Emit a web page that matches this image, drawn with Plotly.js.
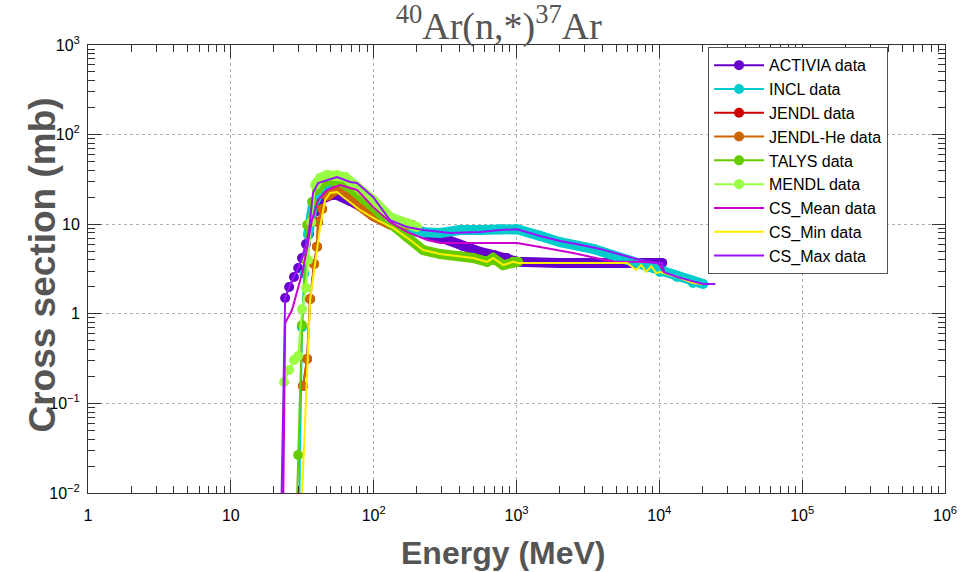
<!DOCTYPE html>
<html>
<head>
<meta charset="utf-8">
<script src="https://cdn.plot.ly/plotly-3.0.1.min.js"></script>
<style>html,body{margin:0;padding:0;background:#fff;}#chart{width:961px;height:572px;}</style>
</head>
<body>
<div id="chart"></div>
<script>
// ---- data (energy in MeV, cross section in mb) ----
const activiaE  = [24.0, 25.6, 27.7, 29.6, 31.5, 33.6, 35.3, 37.0, 38.9, 40.8, 43.5, 46.4, 50.3, 55.4, 61.1, 68.4, 80.3, 99, 120, 150, 189, 250, 327, 420, 556, 700, 859, 1010, 2000, 5000, 10470];
const activiaXS = [1.50, 1.99, 2.58, 3.25, 4.2, 6.0, 7.8, 10.6, 13.7, 16.8, 19.1, 20.1, 21.2, 21.2, 20.1, 18.2, 16.0, 13.3, 11.5, 10.2, 8.8, 7.6, 6.7, 5.7, 4.9, 4.5, 4.2, 3.8, 3.7, 3.7, 3.7];

const inclE  = [30.0, 31.5, 32.7, 34.7, 37.6, 42.2, 49.5, 58.2, 74.1, 99, 137, 201, 292, 403, 556, 767, 1010, 1463, 2020, 3440, 5950, 8220, 10100, 13300, 17200, 20300];
const inclXS = [0.005, 0.71, 2.8, 7.6, 16.4, 22.9, 25.3, 24.7, 20.6, 15.2, 11.1, 8.2, 7.98, 8.6, 8.6, 8.8, 8.8, 7.4, 6.3, 5.3, 3.98, 3.33, 2.93, 2.58, 2.21, 2.15];

const jendlE  = [32.0, 34.2, 35.9, 38.3, 40.1, 40.8, 43.5, 47.2, 55.4, 65.1, 80.3, 99, 130, 186];
const jendlXS = [0.156, 0.313, 1.46, 3.6, 5.6, 10.6, 14.8, 20.6, 24.7, 22.9, 16.0, 12.4, 10.0, 9.8];

const jendlHeE  = [32.0, 34.2, 35.9, 38.3, 40.1, 40.8, 43.5, 47.2, 55.4, 65.1, 80.3, 99, 130, 186];
const jendlHeXS = [0.156, 0.313, 1.46, 3.6, 5.6, 10.6, 14.8, 20.6, 24.7, 22.9, 16.0, 12.4, 10.0, 9.8];

const talysE  = [28.8, 29.6, 31.5, 33.6, 34.2, 37.0, 40.1, 43.5, 49.5, 58.2, 68.4, 80.3, 99, 130, 171, 222, 292, 403, 497, 622, 686, 805, 946, 1026];
const talysXS = [0.005, 0.0265, 0.75, 3.98, 9.8, 17.7, 24.1, 28.8, 31.1, 29.6, 25.4, 21.2, 15.6, 10.3, 7.2, 5.15, 4.65, 4.4, 4.2, 3.8, 4.2, 3.5, 3.8, 3.8];

const mendlE  = [22.8, 23.6, 25.6, 27.7, 29.6, 31.5, 33.6, 34.7, 36.5, 38.9, 42.2, 47.2, 55.4, 63.1, 76.5, 99, 130, 171, 201];
const mendlXS = [0.005, 0.173, 0.236, 0.305, 0.338, 1.13, 1.94, 3.98, 10.6, 27.4, 32.8, 35.4, 35.4, 33.6, 26.0, 18.6, 12.0, 10.3, 9.3];

const meanE  = [23.2, 24.0, 26.8, 32.0, 37.0, 40.8, 47.2, 58.2, 76.5, 99, 130, 171, 237, 292, 497, 1010, 1463, 2490, 4740, 7340, 9810, 10800, 13300, 17200, 20300, 24600];
const meanXS = [0.005, 0.79, 1.10, 3.08, 11.1, 18.6, 24.1, 27.4, 24.1, 15.6, 10.6, 8.2, 6.66, 6.17, 6.17, 6.17, 5.57, 4.77, 3.8, 3.8, 3.7, 2.9, 2.58, 2.21, 2.15, 2.15];

const minE  = [31.0, 35.9, 42.2, 45.7, 49.5, 55.4, 61.1, 80.3, 106, 137, 180, 222, 292, 403, 497, 622, 686, 805, 946, 1030, 2020, 5950, 6880, 7460, 8090, 8770, 9500, 10100, 13300, 17200, 20300, 24600];
const minXS = [0.005, 1.43, 9.3, 18.6, 22.3, 22.9, 20.1, 14.4, 11.1, 9.1, 6.66, 5.15, 4.65, 4.4, 4.2, 3.8, 4.2, 3.5, 3.8, 3.7, 3.7, 3.7, 3.08, 3.51, 2.93, 3.4, 2.85, 2.93, 2.58, 2.21, 2.15, 2.15];

const maxE  = [22.5, 24.0, 25.6, 27.7, 29.6, 31.5, 33.6, 35.3, 37.6, 40.8, 47.2, 55.4, 68.4, 76.5, 99, 130, 171, 222, 343, 556, 767, 1010, 1463, 2020, 2790, 3850, 5310, 7340, 9810, 10470, 10800, 13300, 17200, 20300, 24600];
const maxXS = [0.005, 1.50, 1.99, 2.58, 3.25, 4.2, 6.0, 8.6, 22.3, 28.8, 31.1, 33.6, 29.6, 28.8, 20.1, 11.1, 9.3, 8.6, 7.98, 8.2, 8.6, 8.8, 7.4, 6.5, 5.9, 5.3, 4.6, 3.98, 3.7, 3.7, 2.9, 2.58, 2.3, 2.15, 2.15];

const xTickVals = [1, 10, 100, 1000, 10000, 100000, 1000000];
const xTickText = ['1', '10', '10<sup>2</sup>', '10<sup>3</sup>', '10<sup>4</sup>', '10<sup>5</sup>', '10<sup>6</sup>'];
const yTickVals = [0.01, 0.1, 1, 10, 100, 1000];
const yTickText = ['10<sup>\u22122</sup>', '10<sup>\u22121</sup>', '1', '10', '10<sup>2</sup>', '10<sup>3</sup>'];

const titleText  = '<sup>40</sup>Ar(n,*)<sup>37</sup>Ar';
const xTitleText = '<b>Energy (MeV)</b>';
const yTitleText = '<b>Cross section (mb)</b>';

// ---- traces ----
function dataTraces(name, E, XS, color, bandFrom) {
  return [
    {x: E.slice(bandFrom), y: XS.slice(bandFrom), mode: 'lines', type: 'scatter',
     line: {color: color, width: 10}, showlegend: false, hoverinfo: 'skip'},
    {x: E, y: XS, mode: 'lines+markers', type: 'scatter', name: name,
     line: {color: color, width: 2}, marker: {color: color, size: 10}}
  ];
}
function lineTrace(name, E, XS, color) {
  return {x: E, y: XS, mode: 'lines', type: 'scatter', name: name, line: {color: color, width: 2}};
}

const traces = [].concat(
  dataTraces('ACTIVIA data', activiaE, activiaXS, '#6600cc', 10),
  dataTraces('INCL data', inclE, inclXS, '#00cccc', 3),
  dataTraces('JENDL data', jendlE, jendlXS, '#cc0000', 7),
  dataTraces('JENDL-He data', jendlHeE, jendlHeXS, '#cc6600', 7),
  dataTraces('TALYS data', talysE, talysXS, '#66cc00', 6),
  dataTraces('MENDL data', mendlE, mendlXS, '#99ff44', 9),
  [lineTrace('CS_Mean data', meanE, meanXS, '#cc00cc'),
   lineTrace('CS_Min data', minE, minXS, '#ffee00'),
   lineTrace('CS_Max data', maxE, maxXS, '#9911ff')]
);

function minorVals(d0, d1) {
  const v = [];
  for (let d = d0; d < d1; d++) for (let k = 2; k <= 9; k++) v.push(k * Math.pow(10, d));
  return v;
}

const sans = 'Liberation Sans, Arial, sans-serif';
const tickFont = {family: sans, size: 16, color: '#000'};

const layout = {
  width: 961, height: 572,
  margin: {l: 88, r: 16, t: 45, b: 79, pad: 0},
  paper_bgcolor: '#fff', plot_bgcolor: '#fff',
  title: {text: titleText, x: 0.519, xanchor: 'center', xref: 'container',
          y: 0.955, yanchor: 'middle', yref: 'container',
          font: {family: 'Liberation Serif, Times New Roman, serif', size: 38, color: '#555555'}},
  xaxis: {type: 'log', range: [0, 6], tickmode: 'array', tickvals: xTickVals, ticktext: xTickText,
          ticks: 'inside', ticklen: 13, tickcolor: '#333', showline: true, linecolor: '#333', linewidth: 1,
          mirror: 'ticks', showgrid: true, gridcolor: '#b0b0b0', griddash: 'dot', gridwidth: 1, zeroline: false,
          tickfont: tickFont, ticklabelstandoff: 8,
          minor: {tickmode: 'array', tickvals: minorVals(0, 6), ticks: 'inside', ticklen: 7, tickcolor: '#333', showgrid: false}},
  yaxis: {type: 'log', range: [-2, 3], tickmode: 'array', tickvals: yTickVals, ticktext: yTickText,
          ticks: 'inside', ticklen: 13, tickcolor: '#333', showline: true, linecolor: '#333', linewidth: 1,
          mirror: 'ticks', showgrid: true, gridcolor: '#b0b0b0', griddash: 'dot', gridwidth: 1, zeroline: false,
          tickfont: tickFont, ticklabelstandoff: 4,
          minor: {tickmode: 'array', tickvals: minorVals(-2, 3), ticks: 'inside', ticklen: 7, tickcolor: '#333', showgrid: false}},
  annotations: [
    {text: xTitleText, xref: 'paper', yref: 'paper', x: 0.4848, y: -0.134, xanchor: 'center', yanchor: 'middle',
     showarrow: false, font: {family: sans, size: 32, color: '#555555'}},
    {text: yTitleText, xref: 'paper', yref: 'paper', x: -0.053, y: 0.509, xanchor: 'center', yanchor: 'middle',
     textangle: -90, showarrow: false, font: {family: sans, size: 37, color: '#555555'}}
  ],
  legend: {x: 0.7235, y: 0.995, xanchor: 'left', yanchor: 'top', bgcolor: '#fff',
           bordercolor: '#555', borderwidth: 1,
           font: {family: sans, size: 16, color: '#000'},
           itemwidth: 50, tracegroupgap: 0},
  showlegend: true
};

Plotly.newPlot('chart', traces, layout, {displayModeBar: false, staticPlot: true});
</script>
</body>
</html>
